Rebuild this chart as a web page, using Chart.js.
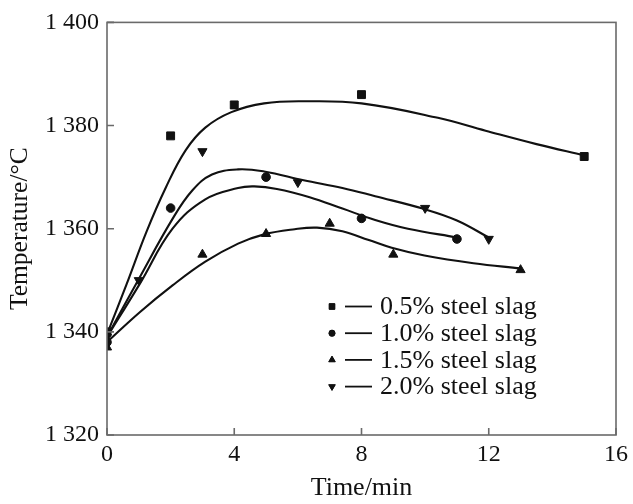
<!DOCTYPE html>
<html><head><meta charset="utf-8">
<script src="https://cdn.jsdelivr.net/npm/chart.js@4.4.1/dist/chart.umd.min.js"></script>
<style>html,body{margin:0;padding:0;background:#fff;} #wrap{width:633px;height:504px;}</style>
</head><body><div id="wrap"><canvas id="c" width="633" height="504"></canvas></div>
<script>
// ---- data ----
const seriesLabels = ['0.5% steel slag', '1.0% steel slag', '1.5% steel slag', '2.0% steel slag'];

const timeSlag05 = [0, 2, 4, 8, 15];
const tempSlag05 = [1340, 1378, 1384, 1386, 1374];
const timeSlag10 = [0, 2, 5, 8, 11];
const tempSlag10 = [1338, 1364, 1370, 1362, 1358];
const timeSlag15 = [0, 3, 5, 7, 9, 13];
const tempSlag15 = [1337, 1355, 1359, 1361, 1355, 1352];
const timeSlag20 = [0, 1, 3, 6, 10, 12];
const tempSlag20 = [1339, 1350, 1375, 1369, 1364, 1358];

// fitted curves
const fitTime05 = [0, 0.62, 1.24, 1.85, 2.47, 3.09, 3.91, 4.94, 6.18, 8, 10.4, 11.9, 13.5, 15];
const fitTemp05 = [1339.5, 1349.3, 1359.4, 1368.0, 1375.2, 1379.6, 1382.6, 1384.3, 1384.7, 1384.3, 1381.5, 1379, 1376.4, 1374.2];
const fitTime10 = [0, 1.03, 2.06, 3.09, 4.12, 4.63, 5.34, 6.37, 7.4, 8.43, 9.46, 11];
const fitTemp10 = [1339, 1349.3, 1360.0, 1365.7, 1367.9, 1368.2, 1367.7, 1366.1, 1363.9, 1361.7, 1360.0, 1358.3];
const fitTime15 = [0, 1.03, 2.06, 3.09, 4.12, 4.94, 5.9, 6.6, 7.4, 8.23, 8.95, 9.98, 11.52, 13];
const fitTemp15 = [1338, 1343.8, 1349.0, 1353.6, 1357.1, 1358.9, 1359.9, 1360.2, 1359.5, 1357.8, 1356.3, 1354.8, 1353.3, 1352.3];
const fitTime20 = [0, 1.03, 2.06, 2.68, 3.3, 4.12, 4.94, 6.18, 7.4, 8.43, 9.98, 11.0, 12];
const fitTemp20 = [1339, 1350.6, 1361.9, 1367.4, 1370.5, 1371.5, 1371.1, 1369.4, 1367.9, 1366.3, 1363.8, 1361.6, 1358.3];

const xTickLabels = ['0', '4', '8', '12', '16'];
const yTickLabels = ['1 320', '1 340', '1 360', '1 380', '1 400'];
const xTitle = 'Time/min';
const yTitle = 'Temperature/\u00B0C';

// ---- build ----
const pts = (xs, ys) => xs.map((x, i) => ({x: x, y: ys[i]}));
const INK = '#111';
const markerStyles = [
  {pointStyle: 'rect', radius: 5.6, rotation: 0},
  {pointStyle: 'circle', radius: 4.3, rotation: 0},
  {pointStyle: 'triangle', radius: 5.3, rotation: 0},
  {pointStyle: 'triangle', radius: 5.3, rotation: 180}
];
const pointSets = [pts(timeSlag05, tempSlag05), pts(timeSlag10, tempSlag10), pts(timeSlag15, tempSlag15), pts(timeSlag20, tempSlag20)];
const fitSets = [pts(fitTime05, fitTemp05), pts(fitTime10, fitTemp10), pts(fitTime15, fitTemp15), pts(fitTime20, fitTemp20)];

const datasets = [];
fitSets.forEach((d, i) => datasets.push({
  label: seriesLabels[i] + ' fit', data: d, showLine: true, borderColor: INK, borderWidth: 2.1,
  pointRadius: 0, tension: 0.4, fill: false
}));
pointSets.forEach((d, i) => datasets.push({
  label: seriesLabels[i], data: d, showLine: false,
  pointStyle: markerStyles[i].pointStyle, pointRadius: markerStyles[i].radius,
  pointRotation: markerStyles[i].rotation,
  backgroundColor: INK, borderColor: INK, borderWidth: 1
}));

const SERIF = "'Liberation Serif', 'DejaVu Serif', serif";

const framePlugin = {
  id: 'frame',
  afterDatasetsDraw(chart) {
    const ctx = chart.ctx, a = chart.chartArea;
    const xs = chart.scales.x, ys = chart.scales.y;
    ctx.save();
    ctx.strokeStyle = '#6a6a6a';
    ctx.lineWidth = 1.6;
    ctx.strokeRect(a.left, a.top, a.right - a.left, a.bottom - a.top);
    ctx.beginPath();
    xs.ticks.forEach(t => {
      const px = xs.getPixelForValue(t.value);
      ctx.moveTo(px, a.bottom); ctx.lineTo(px, a.bottom - 7);
    });
    ys.ticks.forEach(t => {
      const py = ys.getPixelForValue(t.value);
      ctx.moveTo(a.left, py); ctx.lineTo(a.left + 7, py);
    });
    ctx.stroke();
    // legend
    const lx = 332, ly0 = 306.5, dy = 26.7;
    ctx.fillStyle = INK; ctx.strokeStyle = INK;
    ctx.font = "26px " + SERIF;
    ctx.textBaseline = 'middle';
    seriesLabels.forEach((lab, i) => {
      const y = ly0 + i * dy;
      const m = markerStyles[i];
      ctx.lineWidth = 1;
      Chart.helpers.drawPoint(ctx, {pointStyle: m.pointStyle, radius: m.radius * 0.72, rotation: m.rotation, borderWidth: 1}, lx, y);
      ctx.fillStyle = INK;
      ctx.fill();
      ctx.beginPath();
      ctx.lineWidth = 1.8;
      ctx.moveTo(345, y); ctx.lineTo(372, y);
      ctx.stroke();
      ctx.fillText(lab, 380, y + 1);
    });
    ctx.restore();
  }
};

new Chart(document.getElementById('c'), {
  type: 'scatter',
  data: {datasets: datasets},
  options: {
    responsive: false, animation: false, devicePixelRatio: 1,
    layout: {padding: {top: 12, right: 8, left: 0, bottom: 0}},
    plugins: {legend: {display: false}, tooltip: {enabled: false}},
    scales: {
      x: {
        type: 'linear', min: 0, max: 16,
        afterFit: s => { s.height = 69; },
        grid: {display: false, drawTicks: false},
        border: {display: false},
        ticks: {stepSize: 4, padding: 5, color: INK, font: {family: SERIF, size: 24},
          callback: (v, i) => xTickLabels[i]},
        title: {display: true, text: xTitle, color: INK, font: {family: SERIF, size: 26}, padding: {top: 0, bottom: 0}}
      },
      y: {
        type: 'linear', min: 1320, max: 1400,
        afterFit: s => { s.width = 107; },
        grid: {display: false, drawTicks: false},
        border: {display: false},
        ticks: {stepSize: 20, padding: 8, color: INK, font: {family: SERIF, size: 24},
          callback: (v, i) => yTickLabels[i]},
        title: {display: true, text: yTitle, color: INK, font: {family: SERIF, size: 25.5}, padding: {top: 5, bottom: 0}}
      }
    }
  },
  plugins: [framePlugin]
});
</script></body></html>
